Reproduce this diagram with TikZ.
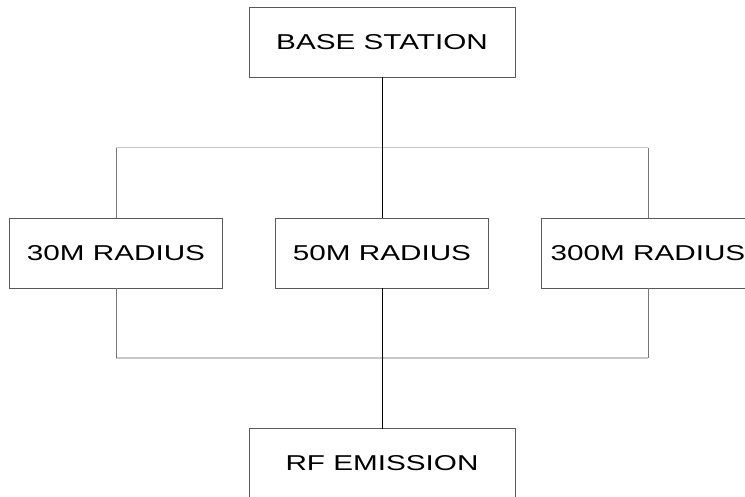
\documentclass[tikz,border=0pt]{standalone}
\usepackage{fontspec}
\setmainfont{Liberation Sans}[FakeStretch=1.38]
\definecolor{boxgray}{RGB}{90,90,90}
\definecolor{busgray}{RGB}{200,200,200}
\definecolor{dropgray}{RGB}{120,120,120}
\usetikzlibrary{positioning}

\tikzset{
  radbox/.style={draw=boxgray, line width=0.9pt, minimum width=213pt, minimum height=70pt,
                 inner sep=0pt, outer sep=0pt, font=\fontsize{21.5}{24}\selectfont},
  endbox/.style={radbox, minimum width=266pt},
  bus/.style={draw=busgray, line width=1pt},
  drop/.style={draw=dropgray, line width=0.9pt},
  trunk/.style={draw=black, line width=0.9pt}
}

\begin{document}
\begin{tikzpicture}[x=1pt, y=1pt]
  \useasboundingbox (0,0) rectangle (745,-497);
  \clip (0,0) rectangle (745,-497);
  \fill[white] (0,0) rectangle (745,-497);

  \node[endbox] (base) at (382,-42) {BASE STATION};
  \node[radbox] (r30) at (116,-253) {30M RADIUS};
  \node[radbox, right=53pt of r30] (r50) {50M RADIUS};
  \node[radbox, right=53pt of r50] (r300) {300M RADIUS};
  \node[endbox] (rf) at (382,-463.5) {RF EMISSION};

  % bus lines above and below the radius boxes
  \coordinate (tl) at (r30.north |- 0,-148);
  \coordinate (tr) at (r300.north |- 0,-148);
  \coordinate (bl) at (r30.south |- 0,-358);
  \coordinate (br) at (r300.south |- 0,-358);
  \draw[bus] (tl) -- (tr);
  \draw[bus] (bl) -- (br);
  \draw[drop] (tl) -- (r30.north);
  \draw[drop] (tr) -- (r300.north);
  \draw[drop] (r30.south) -- (bl);
  \draw[drop] (r300.south) -- (br);

  % main trunk
  \draw[trunk] (base.south) -- (r50.north);
  \draw[trunk] (r50.south) -- (rf.north);
\end{tikzpicture}
\end{document}
